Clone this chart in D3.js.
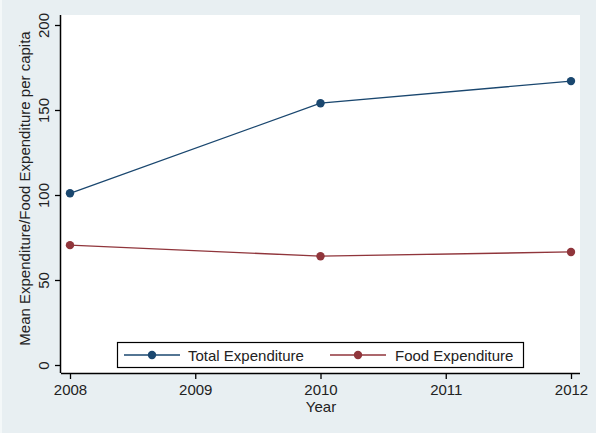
<!DOCTYPE html>
<html>
<head>
<meta charset="utf-8">
<script src="https://cdn.jsdelivr.net/npm/d3@7"></script>
<style>
  html, body { margin: 0; padding: 0; background: #e8eff2; }
  svg { display: block; font-family: "Liberation Sans", Arial, sans-serif; }
</style>
</head>
<body>
<svg id="chart" width="596" height="433"></svg>
<script>
// Mean expenditure per capita by survey year
const years = [2008, 2010, 2012];
const totalExpenditure = [101, 154, 167];
const foodExpenditure = [70.5, 64, 66.5];
const xTicks = [2008, 2009, 2010, 2011, 2012];
const yTicks = [0, 50, 100, 150, 200];
const seriesNames = ["Total Expenditure", "Food Expenditure"];
const seriesColors = ["#1a476f", "#90353b"];

const svg = d3.select("#chart");
const W = 596, H = 433;
const plot = { left: 61, right: 580, top: 15, bottom: 373 };
const fontSize = 15;

svg.append("rect").attr("width", W).attr("height", H).attr("fill", "#e8eff2");
svg.append("rect").attr("x", 0).attr("y", 0).attr("width", 2).attr("height", H).attr("fill", "#f4f8f9");

// plot region
svg.append("rect")
  .attr("x", plot.left).attr("y", plot.top)
  .attr("width", plot.right - plot.left).attr("height", plot.bottom - plot.top)
  .attr("fill", "#ffffff");

const x = d3.scaleLinear().domain([2008, 2012]).range([70, 571]);
const y = d3.scaleLinear().domain([0, 200]).range([365, 25]);

const textColor = "#222222";

// x axis
const xAxis = d3.axisBottom(x).tickValues(xTicks).tickFormat(d3.format("d"))
  .tickSize(6).tickPadding(5).tickSizeOuter(0);
const gx = svg.append("g").attr("transform", `translate(0,${plot.bottom})`).call(xAxis);
gx.select(".domain").attr("d", `M${plot.left},0.5H${plot.right}`).attr("stroke", "#000").attr("stroke-width", 1.5);
gx.selectAll(".tick line").attr("stroke", "#000").attr("stroke-width", 1.3);
gx.selectAll(".tick text").attr("font-size", fontSize).attr("fill", textColor)
  .attr("font-family", "Liberation Sans, Arial, sans-serif");

// y axis
const yAxis = d3.axisLeft(y).tickValues(yTicks).tickFormat(d3.format("d"))
  .tickSize(6).tickPadding(0).tickSizeOuter(0);
const gy = svg.append("g").attr("transform", `translate(${plot.left},0)`).call(yAxis);
gy.select(".domain").attr("d", `M-0.5,${plot.top}V${plot.bottom}`).attr("stroke", "#000").attr("stroke-width", 1.5);
gy.selectAll(".tick line").attr("stroke", "#000").attr("stroke-width", 1.3);
gy.selectAll(".tick text")
  .attr("font-size", fontSize).attr("fill", textColor)
  .attr("font-family", "Liberation Sans, Arial, sans-serif")
  .attr("x", null).attr("dy", null)
  .attr("text-anchor", "middle")
  .attr("transform", "translate(-12,0) rotate(-90)");

// axis titles
svg.append("text")
  .attr("x", (plot.left + plot.right) / 2 + 0.5).attr("y", 412)
  .attr("text-anchor", "middle").attr("font-size", fontSize).attr("fill", textColor)
  .text("Year");
svg.append("text")
  .attr("transform", `translate(30,188.5) rotate(-90)`)
  .attr("text-anchor", "middle").attr("font-size", fontSize).attr("fill", textColor)
  .text("Mean Expenditure/Food Expenditure per capita");

// series
const series = [totalExpenditure, foodExpenditure];
const line = d3.line().x((d, i) => x(years[i])).y(d => y(d));
series.forEach((vals, k) => {
  svg.append("path").datum(vals)
    .attr("d", line).attr("fill", "none")
    .attr("stroke", seriesColors[k]).attr("stroke-width", 1.3);
  svg.selectAll(null).data(vals).enter().append("circle")
    .attr("cx", (d, i) => x(years[i])).attr("cy", d => y(d))
    .attr("r", 4.2).attr("fill", seriesColors[k]);
});

// legend
const legend = svg.append("g");
legend.append("rect")
  .attr("x", 117.5).attr("y", 342.5).attr("width", 406).attr("height", 25)
  .attr("fill", "#fff").attr("stroke", "#000").attr("stroke-width", 1.2);
const legendItems = [
  { x0: 124, x1: 180, tx: 188 },
  { x0: 330, x1: 386, tx: 395 }
];
legendItems.forEach((it, k) => {
  const cy = 355;
  legend.append("line").attr("x1", it.x0).attr("x2", it.x1).attr("y1", cy).attr("y2", cy)
    .attr("stroke", seriesColors[k]).attr("stroke-width", 1.3);
  legend.append("circle").attr("cx", (it.x0 + it.x1) / 2).attr("cy", cy).attr("r", 4.2)
    .attr("fill", seriesColors[k]);
  legend.append("text").attr("x", it.tx).attr("y", cy + 5.5)
    .attr("font-size", fontSize).attr("fill", textColor).text(seriesNames[k]);
});
</script>
</body>
</html>
